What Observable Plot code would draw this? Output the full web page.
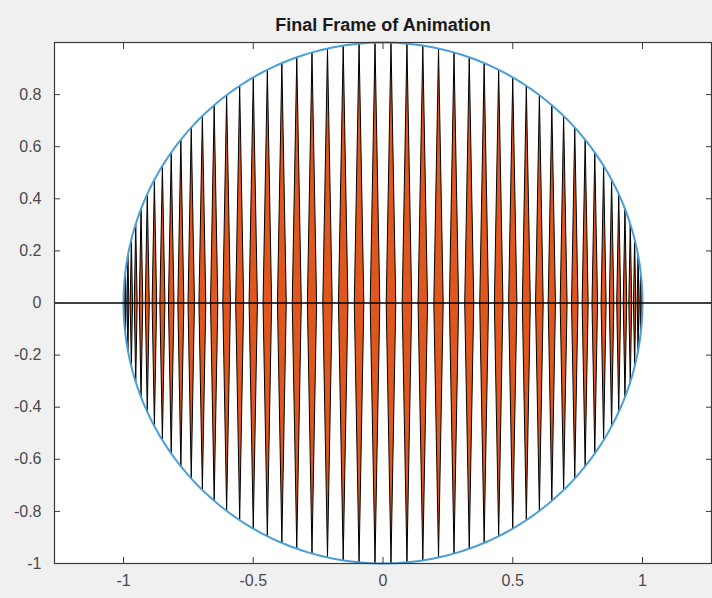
<!DOCTYPE html>
<html>
<head>
<meta charset="utf-8">
<script src="https://cdn.jsdelivr.net/npm/d3@7"></script>
<script src="https://cdn.jsdelivr.net/npm/@observablehq/plot@0.6"></script>
<style>
  html, body { margin: 0; padding: 0; background: #f0f0f0; }
  #chart svg { display: block; background: #f0f0f0; }
</style>
</head>
<body>
<div id="chart"></div>
<script>
// Chart title and axis ticks
const titleText = "Final Frame of Animation";
const xTicks = [-1, -0.5, 0, 0.5, 1];
const yTicks = [-1, -0.8, -0.6, -0.4, -0.2, 0, 0.2, 0.4, 0.6, 0.8];

// Number of angular steps of the sweep across the half turn
const stripCount = 51;
// Fraction of the local strip spacing used as half-width of each wedge
const wedgeFraction = 0.3;
// Number of segments used to trace the unit circle
const circleSegments = 360;

// Wedge centres: x = cos(theta) for equally spaced theta over [0, pi]
const stripAngles = d3.range(stripCount + 1).map(i => Math.PI * i / stripCount);

// Each wedge is a thin diamond: top and bottom on the circle, widest at y = 0
const wedges = [];
stripAngles.forEach((t, i) => {
  const x = Math.cos(t);
  const h = Math.sin(t);
  const spacing = Math.sin(t) * Math.PI / stripCount;
  const w = wedgeFraction * spacing;
  const pts = [[x, h], [x + w, 0], [x, -h], [x - w, 0], [x, h]];
  pts.forEach(([px, py]) => wedges.push({id: i, x: px, y: py}));
});

const circle = d3.range(circleSegments + 1).map(i => {
  const a = 2 * Math.PI * i / circleSegments;
  return {x: Math.cos(a), y: Math.sin(a)};
});

const fmt = d => String(d);
const axisColor = "#3a3a3a";
const labelColor = "#4a4a4a";

const chart = Plot.plot({
  width: 712,
  height: 598,
  marginLeft: 54,
  marginRight: 1,
  marginTop: 42,
  marginBottom: 35,
  style: {fontFamily: "'Liberation Sans', Arial, sans-serif", fontSize: "15px", color: axisColor, background: "#f0f0f0"},
  x: {domain: [-1.266, 1.266], label: null},
  y: {domain: [-1, 1], label: null},
  marks: [
    Plot.frame({fill: "white"}),
    Plot.line(wedges, {x: "x", y: "y", z: "id", fill: "#e0571d", stroke: "black", strokeWidth: 1, curve: "linear"}),
    Plot.line(circle, {x: "x", y: "y", stroke: "#4a9fd8", strokeWidth: 2}),
    Plot.ruleY([0], {stroke: "black", strokeWidth: 1.5}),
    Plot.frame({stroke: axisColor, strokeWidth: 1.2}),
    Plot.axisX(xTicks, {anchor: "bottom", label: null, tickSize: -6, tickPadding: 17, tickFormat: fmt, stroke: axisColor, fill: labelColor, fontSize: 16}),
    Plot.axisX(xTicks, {anchor: "top", label: null, tickSize: -6, tickFormat: () => "", stroke: axisColor}),
    Plot.axisY(yTicks, {anchor: "left", label: null, tickSize: -6, tickPadding: 19, tickFormat: fmt, stroke: axisColor, fill: labelColor, fontSize: 16}),
    Plot.axisY(yTicks, {anchor: "right", label: null, tickSize: -6, tickFormat: () => "", stroke: axisColor}),
    Plot.text([titleText], {frameAnchor: "top", dy: -24, fontWeight: "bold", fontSize: 18, fill: "#1a1a1a"})
  ]
});
document.getElementById("chart").appendChild(chart);
</script>
</body>
</html>
